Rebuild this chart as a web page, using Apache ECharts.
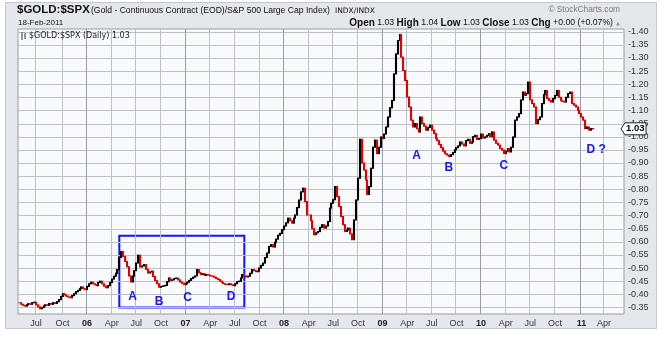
<!DOCTYPE html>
<html><head><meta charset="utf-8">
<script src="https://cdn.jsdelivr.net/npm/echarts@6/dist/echarts.min.js"></script>
<style>html,body{margin:0;padding:0;background:#fff}#c{width:662px;height:338px}</style>
</head><body><div id="c"></div>
<script>
// ---- data (weekly closes of $GOLD:$SPX) ----
const startDate = '2005-04-29';   // first weekly category (Friday)
const weekCount = 320;            // categories through Jun 2011 (right padding)
const closes = [
0.368,0.362,0.358,0.355,0.360,0.364,0.362,0.368,0.370,0.360,
0.352,0.345,0.350,0.356,0.360,0.358,0.365,0.362,0.368,0.365,
0.372,0.380,0.392,0.403,0.398,0.393,0.390,0.387,0.395,0.402,
0.410,0.415,0.422,0.428,0.421,0.418,0.430,0.440,0.446,0.440,
0.436,0.433,0.445,0.450,0.440,0.431,0.425,0.433,0.445,0.458,
0.469,0.480,0.494,0.540,0.563,0.544,0.525,0.505,0.470,0.447,
0.469,0.490,0.519,0.549,0.504,0.508,0.513,0.495,0.481,0.485,
0.488,0.468,0.452,0.440,0.427,0.430,0.432,0.434,0.448,0.462,
0.453,0.455,0.460,0.462,0.455,0.447,0.442,0.437,0.440,0.446,
0.453,0.460,0.465,0.470,0.494,0.482,0.475,0.478,0.472,0.475,
0.473,0.470,0.469,0.465,0.460,0.456,0.450,0.445,0.441,0.438,
0.437,0.440,0.436,0.433,0.440,0.448,0.450,0.462,0.475,0.470,
0.466,0.469,0.480,0.494,0.490,0.486,0.488,0.500,0.510,0.519,
0.540,0.557,0.582,0.589,0.580,0.598,0.610,0.625,0.632,0.646,
0.660,0.672,0.690,0.680,0.671,0.690,0.702,0.730,0.759,0.790,
0.804,0.753,0.702,0.702,0.680,0.650,0.627,0.634,0.639,0.655,
0.665,0.652,0.660,0.677,0.728,0.747,0.760,0.810,0.772,0.734,
0.696,0.665,0.639,0.645,0.652,0.630,0.608,0.683,0.759,0.842,
0.990,0.900,0.873,0.835,0.780,0.810,0.880,0.960,0.987,0.936,
0.960,0.999,0.993,1.010,1.037,1.075,1.110,1.138,1.239,1.315,
1.366,1.389,1.303,1.252,1.214,1.151,1.113,1.063,1.037,1.050,
1.030,1.018,1.075,1.050,1.040,1.025,1.035,1.044,1.025,1.012,
0.993,0.985,0.970,0.958,0.945,0.935,0.930,0.925,0.932,0.940,
0.950,0.958,0.965,0.980,0.972,0.965,0.985,0.990,0.975,0.980,
1.000,1.005,0.990,0.993,1.010,0.995,0.999,1.005,1.012,1.000,
1.018,0.987,0.975,0.968,0.955,0.949,0.936,0.945,0.955,0.942,
0.960,0.999,1.063,1.075,1.088,1.140,1.170,1.158,1.164,1.208,
1.140,1.126,1.113,1.050,1.065,1.075,1.126,1.160,1.176,1.145,
1.138,1.132,1.145,1.157,1.176,1.150,1.138,1.135,1.132,1.150,
1.164,1.170,1.126,1.120,1.113,1.100,1.088,1.075,1.063,1.031,
1.037,1.025,1.031,1.030
];
const monthNames = ['Jan','Feb','Mar','Apr','May','Jun','Jul','Aug','Sep','Oct','Nov','Dec'];
const yGridValues = [0.35,0.40,0.45,0.50,0.55,0.60,0.65,0.70,0.75,0.80,0.85,0.90,0.95,1.00,1.05,1.10,1.15,1.20,1.25,1.30,1.35,1.40];
const lastClose = 1.03;
// annotations
const annoText   = ['A','B','C','D','A','B','C','D','?'];
const annoDates  = ['2006-06-23','2006-09-29','2007-01-12','2007-06-22','2009-05-08','2009-09-04','2010-03-26','2011-02-11','2011-03-25'];
const annoValues = [0.392,0.373,0.386,0.390,0.926,0.881,0.889,0.952,0.952];
// highlighted box
const boxDates  = ['2006-05-05','2007-08-10'];
const boxValues = [0.623,0.350];

// ---- build ----
const cats = [];
const t0 = Date.parse(startDate + 'T00:00:00Z');
for (let i = 0; i < weekCount; i++) cats.push(new Date(t0 + i * 7 * 86400000).toISOString().slice(0, 10));
const ohlc = closes.map((c, i) => {
  const o = i > 0 ? closes[i - 1] : c;
  return [o, c, Math.min(o, c), Math.max(o, c)];
});
const mon = s => +s.slice(5, 7);
const quarterStart = (idx) => {
  if (idx === 0) return false;
  const m = mon(cats[idx]);
  return (m === 1 || m === 4 || m === 7 || m === 10) && mon(cats[idx - 1]) !== m;
};

const G = {left: 18, right: 38, top: 29, bottom: 24};
const chart = echarts.init(document.getElementById('c'), null, {renderer: 'canvas'});
const option = {
  animation: false,
  backgroundColor: '#ffffff',
  grid: {left: G.left, right: G.right, top: G.top, bottom: G.bottom, show: true, backgroundColor: '#f9fafc', borderColor: '#9c9c9c', borderWidth: 1},
  xAxis: {
    type: 'category', data: cats, boundaryGap: true,
    axisLine: {show: false}, axisTick: {show: false},
    axisLabel: {
      interval: quarterStart, margin: 5, fontSize: 9, color: '#333', fontFamily: 'Liberation Sans',
      formatter: v => { const m = mon(v); return m === 1 ? '{y|' + v.slice(2, 4) + '}' : monthNames[m - 1]; },
      rich: {y: {fontWeight: 'bold', fontSize: 9, color: '#222', fontFamily: 'Liberation Sans'}}
    },
    splitLine: {show: false}
  },
  yAxis: {
    type: 'value', position: 'right', min: 0.325, max: 1.41, interval: 0.025, scale: true,
    axisLine: {show: false},
    axisTick: {show: false},
    axisLabel: {
      margin: 4, fontSize: 9, color: '#333', fontFamily: 'Liberation Sans',
      formatter: v => (Math.abs(v * 20 - Math.round(v * 20)) < 1e-6 && v > 0.34 && v < 1.405) ? '-' + v.toFixed(2) : ''
    },
    splitLine: {show: false}
  },
  series: [
    {
      type: 'candlestick', data: ohlc, barWidth: 1.5, z: 3,
      itemStyle: {color: '#000000', borderColor: '#000000', color0: '#e00000', borderColor0: '#e00000', borderWidth: 1.1},
      markArea: {
        silent: true,
        itemStyle: {color: 'rgba(0,0,0,0)', borderColor: '#1414ff', borderWidth: 2},
        data: [[{xAxis: boxDates[0], yAxis: boxValues[0]}, {xAxis: boxDates[1], yAxis: boxValues[1]}]]
      }
    }
  ]
};
chart.setOption(option);

// crisp grid lines positioned through the axes
const W = 662, H = 338;
const x0 = G.left, x1 = W - G.right, y0 = G.top, y1 = H - G.bottom;
const band = (x1 - x0) / cats.length;
const gridGraphics = [];
yGridValues.forEach(v => {
  const y = Math.round(chart.convertToPixel({yAxisIndex: 0}, v)) + 0.5;
  gridGraphics.push({type: 'line', z: 1, silent: true, shape: {x1: x0, y1: y, x2: x1, y2: y}, style: {stroke: '#bcc2cc', lineWidth: 1}});
});
cats.forEach((c, i) => {
  if (!quarterStart(i)) return;
  const x = Math.round(chart.convertToPixel({xAxisIndex: 0}, c) - band / 2) + 0.5;
  gridGraphics.push({type: 'line', z: mon(c) === 1 ? 2 : 1, silent: true, shape: {x1: x, y1: y0, x2: x, y2: y1}, style: {stroke: mon(c) === 1 ? '#979ea9' : '#bcc2cc', lineWidth: 1}});
});

const yLast = chart.convertToPixel({yAxisIndex: 0}, lastClose);
const annoGraphics = annoText.map((t, i) => {
  const p = chart.convertToPixel({gridIndex: 0}, [annoDates[i], annoValues[i]]);
  return {type: 'text', z: 30, x: p[0], y: p[1], style: {text: t, font: 'bold 12px "Liberation Sans"', fill: '#1717e6', align: 'center', verticalAlign: 'middle'}};
});
chart.setOption({graphic: [
  {type: 'rect', left: 5, top: 2, shape: {width: 651, height: 326}, z: -10, style: {fill: '#e4e7eb', stroke: '#c4c8ce', lineWidth: 1}},
  {type: 'text', left: 17, top: 4, z: 10, style: {text: '$GOLD:$SPX', font: 'bold 11.5px "Liberation Sans"', fill: '#111'}},
  {type: 'text', left: 91, top: 6, z: 10, style: {text: '(Gold - Continuous Contract (EOD)/S&P 500 Large Cap Index)', font: '8.6px "Liberation Sans"', fill: '#111'}},
  {type: 'text', left: 335, top: 7, z: 10, style: {text: 'INDX/INDX', font: '7.5px "DejaVu Sans"', fill: '#111'}},
  {type: 'text', right: 42, top: 6, z: 10, style: {text: '\u00A9 StockCharts.com', font: '8.3px "Liberation Sans"', fill: '#7a7a7a'}},
  {type: 'text', left: 18, top: 19, z: 10, style: {text: '18-Feb-2011', font: '8px "Liberation Sans"', fill: '#111'}},
  {type: 'text', right: 49, top: 18, z: 10, style: {
    text: '{b|Open} 1.03 {b|High} 1.04 {b|Low} 1.03 {b|Close} 1.03 {b|Chg} +0.00 (+0.07%)',
    font: '8.7px "Liberation Sans"', fill: '#111',
    rich: {b: {font: 'bold 10px "Liberation Sans"', fill: '#111'}}
  }},
  {type: 'text', left: 616, top: 21, z: 10, style: {text: '\u25B2', font: '5px "DejaVu Sans"', fill: '#999'}},
  {type: 'line', z: 10, shape: {x1: 22, y1: 32, x2: 22, y2: 40}, style: {stroke: '#333', lineWidth: 1}},
  {type: 'line', z: 10, shape: {x1: 25, y1: 33, x2: 25, y2: 39}, style: {stroke: '#333', lineWidth: 1}},
  {type: 'text', left: 29, top: 32, z: 10, style: {text: '$GOLD:$SPX (Daily) 1.03', font: '8px "DejaVu Sans"', fill: '#222'}},
  {type: 'polygon', z: 20, shape: {points: [[621, yLast], [625, yLast - 6], [646, yLast - 6], [646, yLast + 6], [625, yLast + 6]]}, style: {fill: '#fff', stroke: '#222', lineWidth: 1}},
  {type: 'text', z: 21, left: 626, top: yLast - 5, style: {text: '1.03', font: 'bold 9.5px "Liberation Sans"', fill: '#000'}}
].concat(gridGraphics, annoGraphics)});
</script></body></html>
